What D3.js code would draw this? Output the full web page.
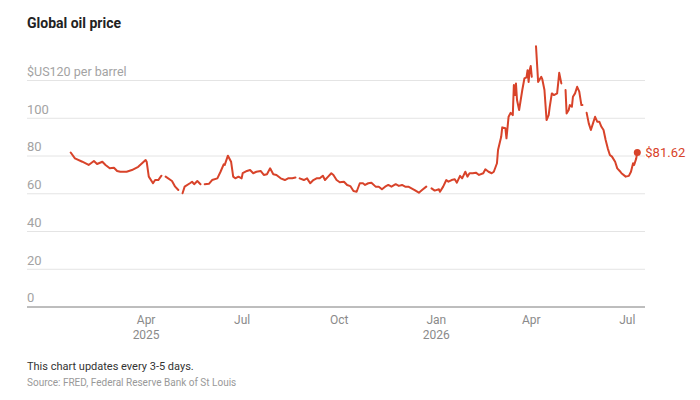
<!DOCTYPE html>
<html>
<head>
<meta charset="utf-8">
<script src="https://cdn.jsdelivr.net/npm/d3@7"></script>
<style>
  body { margin: 0; background: #fff; }
  svg { display: block; font-family: Roboto, "Noto Sans", sans-serif; }
</style>
</head>
<body>
<svg id="chart" width="700" height="400"></svg>
<script>
// ---- data ----
const dates = [
  "2025-01-20","2025-01-24","2025-01-31","2025-02-06","2025-02-11","2025-02-14","2025-02-19","2025-02-22",
  "2025-02-26","2025-03-02","2025-03-05","2025-03-08","2025-03-14","2025-03-19","2025-03-25","2025-04-01",
  "2025-04-02","2025-04-04","2025-04-08","2025-04-10","2025-04-13","2025-04-16","2025-04-18","2025-04-20",
  "2025-04-26","2025-04-29","2025-05-02","2025-05-04","2025-05-06","2025-05-08","2025-05-13","2025-05-15",
  "2025-05-17","2025-05-20","2025-05-23","2025-05-25","2025-05-27","2025-05-31","2025-06-03","2025-06-08",
  "2025-06-11","2025-06-14","2025-06-15","2025-06-18","2025-06-21","2025-06-23","2025-06-25","2025-06-28",
  "2025-07-01","2025-07-02","2025-07-06","2025-07-09","2025-07-12","2025-07-15","2025-07-19","2025-07-22",
  "2025-07-25","2025-07-28","2025-07-31","2025-08-03","2025-08-07","2025-08-11","2025-08-14","2025-08-18",
  "2025-08-21","2025-08-23","2025-08-25","2025-08-29","2025-09-01","2025-09-04","2025-09-07","2025-09-10",
  "2025-09-13","2025-09-16","2025-09-18","2025-09-21","2025-09-24","2025-09-26","2025-09-29","2025-10-02",
  "2025-10-06","2025-10-09","2025-10-12","2025-10-15","2025-10-18","2025-10-21","2025-10-24","2025-10-26",
  "2025-10-29","2025-11-01","2025-11-05","2025-11-08","2025-11-11","2025-11-14","2025-11-17","2025-11-20",
  "2025-11-24","2025-11-27","2025-11-30","2025-12-03","2025-12-06","2025-12-09","2025-12-12","2025-12-16",
  "2025-12-19","2025-12-23","2025-12-25","2025-12-28","2025-12-31","2026-01-04","2026-01-05","2026-01-08",
  "2026-01-11","2026-01-13","2026-01-16","2026-01-19","2026-01-21","2026-01-24","2026-01-26","2026-01-29",
  "2026-01-31","2026-02-02","2026-02-05","2026-02-08","2026-02-11","2026-02-15","2026-02-17","2026-02-20",
  "2026-02-23","2026-02-25","2026-02-28","2026-03-01","2026-03-04","2026-03-05","2026-03-08","2026-03-09",
  "2026-03-11","2026-03-13","2026-03-15","2026-03-16","2026-03-17","2026-03-18","2026-03-19","2026-03-21",
  "2026-03-24","2026-03-26","2026-03-28","2026-03-29","2026-03-30","2026-03-31","2026-04-01","2026-04-02",
  "2026-04-04","2026-04-06","2026-04-08","2026-04-11","2026-04-12","2026-04-14","2026-04-16","2026-04-18",
  "2026-04-19","2026-04-21","2026-04-23","2026-04-26","2026-04-27","2026-04-28","2026-04-30","2026-05-02",
  "2026-05-04","2026-05-05","2026-05-07","2026-05-08","2026-05-10","2026-05-11","2026-05-13","2026-05-15",
  "2026-05-17","2026-05-19","2026-05-20","2026-05-22","2026-05-24","2026-05-26","2026-05-28","2026-05-30",
  "2026-06-01","2026-06-03","2026-06-05","2026-06-07","2026-06-09","2026-06-11","2026-06-13","2026-06-15",
  "2026-06-17","2026-06-20","2026-06-22","2026-06-25","2026-06-26","2026-06-30","2026-07-03","2026-07-05",
  "2026-07-07","2026-07-08","2026-07-10","2026-07-11"
];
const prices = [
  81.6,78.5,76.7,75.0,77.1,75.5,76.7,75.0,
  73.2,73.5,71.8,71.4,71.4,72.3,74.0,77.6,
  76.7,68.8,65.3,67.0,67.0,69.3,null,68.8,
  66.5,63.5,61.7,null,60.0,63.5,65.3,66.1,
  64.8,66.5,64.8,null,64.8,65.0,67.0,67.9,
  71.4,75.3,75.0,79.9,76.7,68.8,67.9,68.8,
  67.9,70.6,71.8,72.3,70.6,71.4,71.8,69.7,
  70.1,73.2,70.1,69.7,67.9,67.0,67.9,67.9,
  68.3,null,67.9,67.0,67.9,65.3,67.0,67.9,
  67.9,69.3,67.0,68.8,70.6,69.7,67.0,65.8,
  66.1,64.4,63.8,61.2,60.8,65.3,65.3,64.4,
  65.3,65.6,63.5,63.5,62.1,63.5,64.4,63.5,
  64.8,63.9,64.4,63.5,63.5,62.6,61.7,60.3,
  61.7,63.5,null,62.6,61.4,62.1,60.8,63.5,
  67.0,66.1,67.0,67.4,65.6,69.2,67.9,71.4,
  68.8,70.6,70.6,70.9,69.7,70.6,72.7,71.4,
  70.6,71.4,75.9,82.9,89.9,94.9,94.4,89.1,
  100.5,102.6,101.4,117.3,112.0,118.2,109.4,104.1,
  114.7,120.8,121.4,125.2,119.0,125.2,127.4,121.7,
  null,137.9,119.0,121.7,120.3,114.7,98.8,101.4,
  105.8,112.9,112.0,112.9,118.2,123.8,118.2,null,
  114.7,102.3,104.1,106.7,105.8,111.1,112.9,116.4,
  113.8,106.7,106.7,null,102.6,97.0,93.5,97.0,
  100.5,97.9,97.9,95.2,93.5,88.2,83.8,80.3,
  79.4,76.7,73.2,71.4,70.6,68.8,69.2,71.4,
  75.9,75.0,78.5,81.62
];
const yTicks = [0, 20, 40, 60, 80, 100, 120];
const xTickDates = ["2025-04-01","2025-07-01","2025-10-01","2026-01-01","2026-04-01","2026-07-01"];
const xTickMonths = ["Apr","Jul","Oct","Jan","Apr","Jul"];
const xTickYears = ["2025","","","2026","",""];
const lastLabel = "$81.62";

// ---- chart ----
const parse = d3.timeParse("%Y-%m-%d");
const data = dates.map((d, i) => ({ date: parse(d), v: prices[i] }));
const svg = d3.select("#chart");
const RED = "#d8432a";

const gridLeft = 27, gridRight = 645;
const x = d3.scaleTime()
  .domain([data[0].date, data[data.length - 1].date])
  .range([70.7, 637.3]);
const y = d3.scaleLinear().domain([0, 120]).range([306.5, 80]);

// title
svg.append("text").attr("x", 27).attr("y", 28)
  .attr("font-size", 14).attr("font-weight", 700).attr("fill", "#222")
  .text("Global oil price");

// y gridlines via axis
const yAxis = d3.axisLeft(y).tickValues(yTicks)
  .tickSize(-(gridRight - gridLeft))
  .tickFormat(d => d === 120 ? "$US120 per barrel" : d);
const yg = svg.append("g").attr("transform", `translate(${gridLeft},0)`).call(yAxis);
yg.select(".domain").remove();
yg.selectAll(".tick line").attr("stroke", "#e4e4e4").attr("stroke-width", 1);
yg.selectAll(".tick text")
  .attr("x", 0).attr("dy", "-0.35em").attr("text-anchor", "start")
  .attr("font-size", 13).attr("fill", "#a3a3a3")
  .attr("font-family", "Roboto, sans-serif");
yg.selectAll(".tick text").filter(d => d === 120).attr("font-size", 12.5);

// bottom axis line
svg.append("line").attr("x1", gridLeft).attr("x2", gridRight)
  .attr("y1", y(0) + 0.5).attr("y2", y(0) + 0.5)
  .attr("stroke", "#8a8a8a").attr("stroke-width", 1);

// x axis labels
const xAxis = d3.axisBottom(x).tickValues(xTickDates.map(parse))
  .tickSize(0).tickFormat((d, i) => xTickMonths[i]);
const xg = svg.append("g").attr("transform", `translate(0,${y(0)})`).call(xAxis);
xg.select(".domain").remove();
xg.selectAll(".tick text")
  .attr("y", 9).attr("font-size", 12).attr("fill", "#8a8a8a")
  .attr("font-family", "Roboto, sans-serif");
xg.selectAll(".tick").append("text")
  .attr("y", 24).attr("dy", "0.71em").attr("font-size", 12).attr("fill", "#8a8a8a")
  .attr("text-anchor", "middle").attr("font-family", "Roboto, sans-serif")
  .text((d, i) => xTickYears[i]);

// line
const line = d3.line().defined(d => d.v != null).x(d => x(d.date)).y(d => y(d.v));
svg.append("path").datum(data).attr("d", line)
  .attr("fill", "none").attr("stroke", RED).attr("stroke-width", 2)
  .attr("stroke-linejoin", "round").attr("stroke-linecap", "round");

// end dot and label
const last = data[data.length - 1];
svg.append("circle").attr("cx", x(last.date)).attr("cy", y(last.v)).attr("r", 3.5).attr("fill", RED);
svg.append("text").attr("x", x(last.date) + 8).attr("y", y(last.v)).attr("dy", "0.35em")
  .attr("font-size", 13).attr("fill", RED).text(lastLabel);

// footer
svg.append("text").attr("x", 27).attr("y", 370).attr("font-size", 11).attr("fill", "#333")
  .text("This chart updates every 3-5 days.");
svg.append("text").attr("x", 27).attr("y", 386).attr("font-size", 10).attr("fill", "#999")
  .text("Source: FRED, Federal Reserve Bank of St Louis");
</script>
</body>
</html>
